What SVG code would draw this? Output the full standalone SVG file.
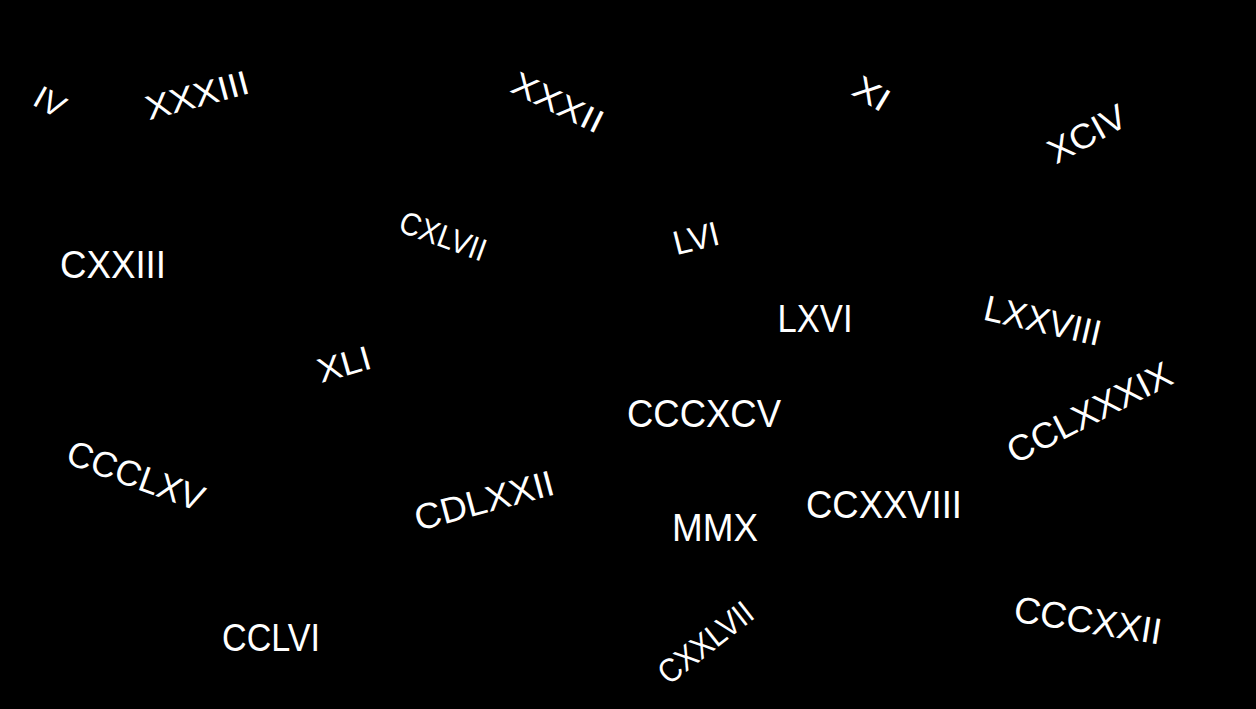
<svg xmlns="http://www.w3.org/2000/svg" width="1256" height="709" viewBox="0 0 1256 709">
<style>
text{fill:#fff;font-family:"Liberation Sans","DejaVu Sans",sans-serif;text-anchor:middle}
</style>
<rect width="1256" height="709" fill="#000"/>
<g id="n1" transform="translate(50,102) rotate(29)"><text y="11" font-size="32" textLength="31" lengthAdjust="spacingAndGlyphs">IV</text></g>
<g id="n2" transform="translate(197,95) rotate(-15)"><text y="12" font-size="34" textLength="106" lengthAdjust="spacingAndGlyphs">XXXIII</text></g>
<g id="n3" transform="translate(558,102) rotate(26)"><text y="12" font-size="33" textLength="98" lengthAdjust="spacingAndGlyphs">XXXII</text></g>
<g id="n4" transform="translate(872,93) rotate(31)"><text y="12" font-size="33" textLength="37" lengthAdjust="spacingAndGlyphs">XI</text></g>
<g id="n5" transform="translate(1087,134) rotate(-29)"><text y="12" font-size="35" textLength="84" lengthAdjust="spacingAndGlyphs">XCIV</text></g>
<g id="n6" transform="translate(113,264)"><text y="14" font-size="39" textLength="106" lengthAdjust="spacingAndGlyphs">CXXIII</text></g>
<g id="n7" transform="translate(443,236) rotate(20)"><text y="11" font-size="32" textLength="90" lengthAdjust="spacingAndGlyphs">CXLVII</text></g>
<g id="n8" transform="translate(696,238) rotate(-14)"><text y="12" font-size="34" textLength="46" lengthAdjust="spacingAndGlyphs">LVI</text></g>
<g id="n9" transform="translate(815,318)"><text y="14" font-size="39" textLength="75" lengthAdjust="spacingAndGlyphs">LXVI</text></g>
<g id="n10" transform="translate(1043,320) rotate(13)"><text y="13" font-size="36" textLength="119" lengthAdjust="spacingAndGlyphs">LXXVIII</text></g>
<g id="n11" transform="translate(344,364) rotate(-16)"><text y="12" font-size="34" textLength="54" lengthAdjust="spacingAndGlyphs">XLI</text></g>
<g id="n12" transform="translate(704,413)"><text y="14" font-size="39" textLength="154" lengthAdjust="spacingAndGlyphs">CCCXCV</text></g>
<g id="n13" transform="translate(1089,412) rotate(-27)"><text y="13" font-size="36" textLength="180" lengthAdjust="spacingAndGlyphs">CCLXXXIX</text></g>
<g id="n14" transform="translate(136,475) rotate(20)"><text y="13" font-size="36" textLength="143" lengthAdjust="spacingAndGlyphs">CCCLXV</text></g>
<g id="n15" transform="translate(484,500) rotate(-15)"><text y="13" font-size="36" textLength="143" lengthAdjust="spacingAndGlyphs">CDLXXII</text></g>
<g id="n16" transform="translate(715,527)"><text y="14" font-size="39" textLength="86" lengthAdjust="spacingAndGlyphs">MMX</text></g>
<g id="n17" transform="translate(884,504)"><text y="14" font-size="39" textLength="156" lengthAdjust="spacingAndGlyphs">CCXXVIII</text></g>
<g id="n18" transform="translate(271,637)"><text y="14" font-size="39" textLength="98" lengthAdjust="spacingAndGlyphs">CCLVI</text></g>
<g id="n19" transform="translate(705,642) rotate(-38)"><text y="12" font-size="33" textLength="111" lengthAdjust="spacingAndGlyphs">CXXLVII</text></g>
<g id="n20" transform="translate(1088,620) rotate(9)"><text y="13" font-size="37" textLength="149" lengthAdjust="spacingAndGlyphs">CCCXXII</text></g>
<g id="connectors"/>
</svg>
